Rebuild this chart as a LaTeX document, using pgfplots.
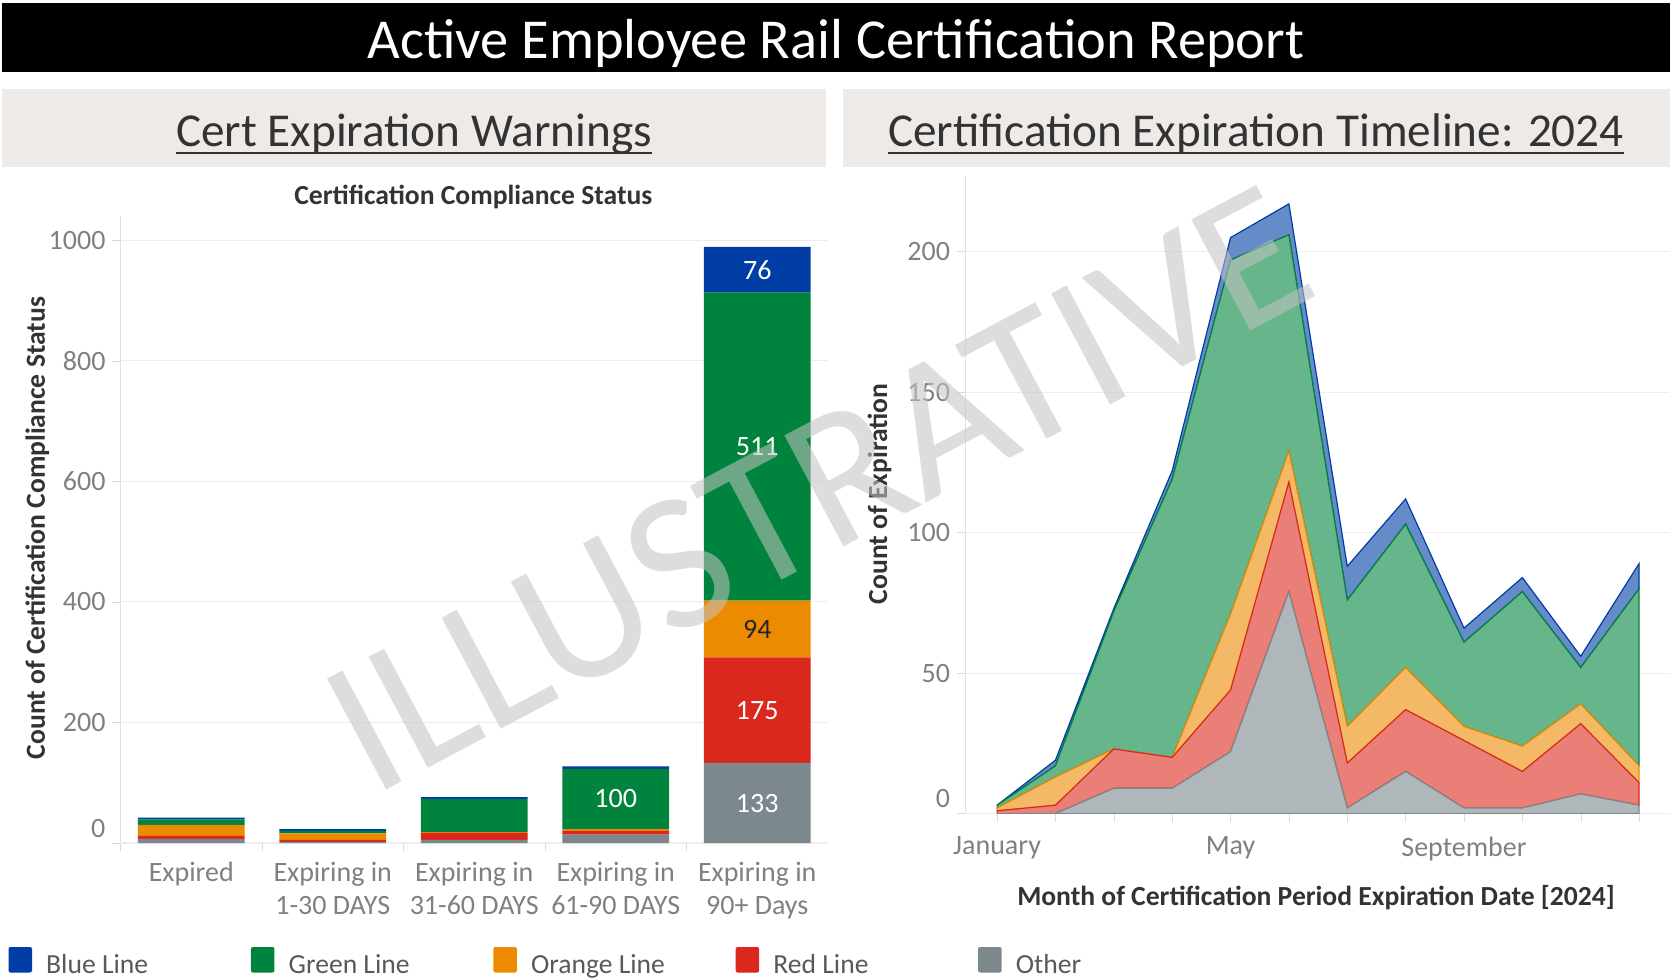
\documentclass[border=0pt]{standalone}
\usepackage{fontspec}
\setmainfont{Carlito}
\usepackage{pgfplots}
\pgfplotsset{compat=1.18}

\definecolor{cBlue}{HTML}{003DA5}
\definecolor{cGreen}{HTML}{00843D}
\definecolor{cOrange}{HTML}{ED8B00}
\definecolor{cRed}{HTML}{DA291C}
\definecolor{cGray}{HTML}{7C878E}
\definecolor{hdrbg}{HTML}{EEEAE7}
\definecolor{gridc}{HTML}{EDEDED}
\definecolor{tickc}{HTML}{808080}
\definecolor{labc}{HTML}{333333}

\newcommand\fsz[2]{\fontsize{#1}{#2}\selectfont}

\pgfplotsset{
  rail/.style={
    scale only axis, anchor=south west,
    axis lines=left, axis line style={-, draw=black!12},
    tick align=outside, major tick length=4pt,
    tick style={draw=black!15},
    ymajorgrids, grid style={draw=gridc, line width=0.6pt},
    tick label style={font=\fsz{14}{16.5}, text=tickc},
    /pgf/number format/assume math mode=true,
    /pgf/number format/1000 sep={},
    ymin=0,
    extra y ticks={0},
    extra y tick style={tick label style={yshift=7.5pt}},
  },
}
\tikzset{
  barlab/.style={font=\fsz{14}{16}, text=white},
  axtitle/.style={text=labc, font=\bfseries\fsz{13.8}{16}},
}

\begin{document}
\begin{tikzpicture}
% canvas
\path[fill=white] (0pt,0pt) rectangle (836pt,-490pt);

% title bar and panel headers
\fill[black] (1pt,-1.5pt) rectangle (835pt,-35.75pt);
\node[anchor=base, text=white, font=\fsz{28.2}{32}] at (418pt,-29.3pt) {Active Employee Rail Certification Report};
\fill[hdrbg] (1pt,-44.25pt) rectangle (413pt,-83.7pt);
\fill[hdrbg] (421.5pt,-44.25pt) rectangle (835pt,-83.7pt);
\node[anchor=base, inner sep=0pt, text=labc, font=\fsz{23.6}{28}] (h1) at (207pt,-73pt) {Cert Expiration Warnings};
\draw[labc, line width=1pt] ([yshift=-3.4pt]h1.base west) -- ([yshift=-3.4pt]h1.base east);
\node[anchor=base, inner sep=0pt, text=labc, font=\fsz{23.6}{28}] (h2) at (628pt,-73pt) {Certification Expiration Timeline: 2024};
\draw[labc, line width=1pt] ([yshift=-3.4pt]h2.base west) -- ([yshift=-3.4pt]h2.base east);

% left: stacked bars
\begin{axis}[rail, at={(60.25pt,-421.5pt)}, width=353.75pt, height=313.5pt,
  ybar stacked, bar width=53.3pt,
  xmin=-0.5, xmax=4.5, ymax=1040,
  ytick={200,400,...,1000},
  xtick={-0.5,0.5,1.5,2.5,3.5}, xticklabels={},
  extra x ticks={0,1,2,3,4},
  extra x tick labels={Expired,{Expiring in\\1-30 DAYS},{Expiring in\\31-60 DAYS},{Expiring in\\61-90 DAYS},{Expiring in\\90+ Days}},
  extra x tick style={major tick length=0pt},
  xticklabel style={align=center, yshift=-6pt},
]
\addplot[fill=cGray, draw=none] coordinates {(0,7) (1,2) (2,5) (3,14) (4,133)};
\addplot[fill=cRed, draw=none] coordinates {(0,5) (1,3) (2,12) (3,6) (4,175)};
\addplot[fill=cOrange, draw=none] coordinates {(0,18) (1,11) (2,1) (3,3) (4,94)};
\addplot[fill=cGreen, draw=none] coordinates {(0,9) (1,4) (2,55) (3,100) (4,511)};
\addplot[fill=cBlue, draw=none] coordinates {(0,3) (1,3) (2,3) (3,4) (4,76)};
\coordinate (lb1) at (axis cs:4,951);
\coordinate (lb2) at (axis cs:4,657);
\coordinate (lb3) at (axis cs:4,355);
\coordinate (lb4) at (axis cs:4,220);
\coordinate (lb5) at (axis cs:4,66);
\coordinate (lb6) at (axis cs:3,73);
\end{axis}
\node[barlab] at (lb1) {76};
\node[barlab] at (lb2) {511};
\node[barlab, text=black!85] at (lb3) {94};
\node[barlab] at (lb4) {175};
\node[barlab] at (lb5) {133};
\node[barlab] at (lb6) {100};
\node[anchor=base, axtitle] at (236.7pt,-102.4pt) {Certification Compliance Status};
\node[anchor=base, rotate=90, axtitle] at (22.4pt,-264pt) {Count of Certification Compliance Status};

% right: stacked areas by month
\begin{axis}[rail, at={(482.5pt,-406.8pt)}, width=352.5pt, height=318.9pt,
  stack plots=y, no markers,
  xmin=0.45, xmax=12.53, ymax=227,
  ytick={50,100,...,200},
  xtick={1,...,12}, xticklabels={January,,,,May,,,,September,,,},
  xticklabel style={yshift=-4pt},
  every axis plot/.append style={line width=0.6pt},
]
\addplot[fill=cGray!60!white, draw=cGray] coordinates {
  (1,0) (2,0) (3,9) (4,9) (5,22) (6,79) (7,2) (8,15) (9,2) (10,2) (11,7) (12,3)} \closedcycle;
\addplot[fill=cRed!60!white, draw=cRed] coordinates {
  (1,1) (2,3) (3,14) (4,11) (5,22) (6,39) (7,16) (8,22) (9,24) (10,13) (11,25) (12,8)} \closedcycle;
\addplot[fill=cOrange!60!white, draw=cOrange] coordinates {
  (1,1) (2,10) (3,0) (4,0) (5,27) (6,11) (7,13) (8,15) (9,5) (10,9) (11,7) (12,6)} \closedcycle;
\addplot[fill=cGreen!60!white, draw=cGreen] coordinates {
  (1,1) (2,4) (3,49) (4,99) (5,126) (6,77) (7,45) (8,51) (9,30) (10,55) (11,13) (12,63)} \closedcycle;
\addplot[fill=cBlue!60!white, draw=cBlue] coordinates {
  (1,0) (2,2) (3,1) (4,3) (5,8) (6,11) (7,12) (8,9) (9,5) (10,5) (11,4) (12,9)} \closedcycle;
\end{axis}
\node[anchor=base, rotate=90, axtitle] at (443.6pt,-246.9pt) {Count of Expiration};
\node[anchor=base, axtitle] at (658pt,-452.6pt) {Month of Certification Period Expiration Date [2024]};

% legend
\foreach \c/\t [count=\i from 0] in {cBlue/Blue Line, cGreen/Green Line, cOrange/Orange Line, cRed/Red Line, cGray/Other} {
  \fill[\c, rounded corners=1pt] ({4.25pt+\i*121.2pt},-473.5pt) rectangle ++(11.75pt,-12.75pt);
  \node[anchor=base west, inner sep=0pt, text=black!65, font=\fsz{13.8}{16}] at ({22.9pt+\i*121.2pt},-486.5pt) {\t};
}

% watermark
\node[anchor=base, rotate=28, text=black!23, text opacity=0.56, font=\fsz{98}{110}] at (424pt,-272.5pt) {ILLUSTRATIVE};
\end{tikzpicture}
\end{document}
